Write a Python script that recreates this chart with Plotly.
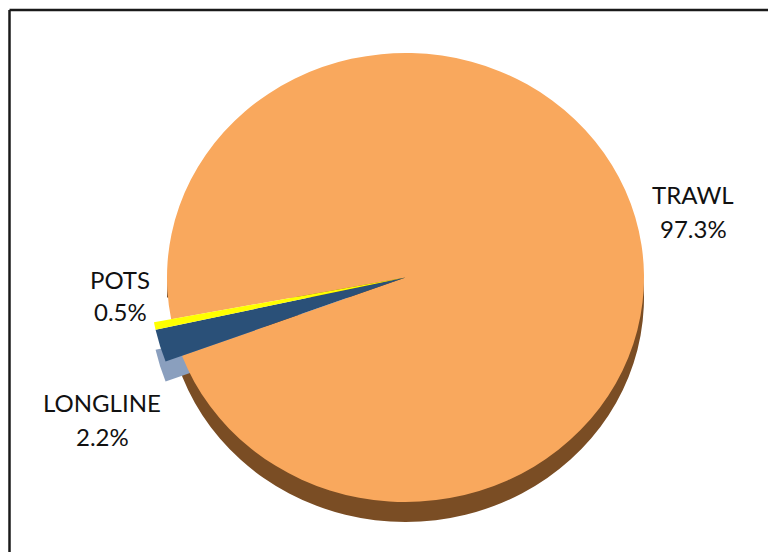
import plotly.graph_objects as go

categories = ["TRAWL", "LONGLINE", "POTS"]
shares = [97.3, 2.2, 0.5]

W, H = 768, 552
CX, CY = 405.5, 277.5
K = 449 / 477          # vertical squash of the tilted pie
DEPTH = 20             # rim depth in px
ROTATION = 259.3
RIM_ROTATION = 270     # the rim is not seen above the wedge
NONE = "rgba(0,0,0,0)"


def pie(radius, colors, rotation=ROTATION):
    return go.Pie(
        labels=categories, values=shares, sort=False, direction="clockwise",
        rotation=rotation, textinfo="none", hoverinfo="label+percent",
        showlegend=False, marker=dict(colors=colors, line=dict(width=0)),
        domain=dict(x=[(CX - radius) / W, (CX + radius) / W],
                    y=[1 - (CY + radius) / H, 1 - (CY - radius) / H]),
    )


fig = go.Figure([
    pie(238.5, ["#7A4D24", NONE, NONE], RIM_ROTATION),  # rim of the big slice
    pie(256, [NONE, "#8A9FBE", NONE]),                  # rim of the pulled wedge
    pie(238.5, ["#F9A85D", NONE, NONE]),                # top of the big slice
    pie(256, [NONE, "#2A5078", "#FFFF00"]),             # top of the pulled wedge
])

font = dict(family="Lato, Carlito, Calibri, sans-serif", size=24, color="#111111")
label_pos = {"TRAWL": (693, 194, 228), "LONGLINE": (102, 402, 436), "POTS": (120, 279, 311)}
for name, value in zip(categories, shares):
    x, y1, y2 = label_pos[name]
    for text, y in ((name, y1), (f"{value}%", y2)):
        fig.add_annotation(
            x=x / W, y=1 - y / H, xref="paper", yref="paper", showarrow=False,
            text=text, font=font, align="center",
            xanchor="center", yanchor="middle",
        )

line = dict(color="#1a1a1a", width=2.5)
fig.add_shape(type="line", xref="paper", yref="paper", x0=9.5 / W, x1=1, y0=1 - 10 / H, y1=1 - 10 / H, line=line)
fig.add_shape(type="line", xref="paper", yref="paper", x0=9.5 / W, x1=9.5 / W, y0=0, y1=1 - 10 / H, line=line)

fig.update_layout(width=W, height=H, margin=dict(l=0, r=0, t=0, b=0),
                  paper_bgcolor="white", plot_bgcolor="white")

post = f"""
document.body.style.margin = '0';
document.body.style.overflow = 'hidden';
var gd = document.getElementById('{{plot_id}}');
var traces = gd.querySelectorAll('.pielayer .trace');
traces.forEach(function(t, i) {{
  var dy = (i < 2) ? {DEPTH} : 0;
  t.setAttribute('transform',
    'translate({CX},' + ({CY} + dy) + ') scale(1,{K}) translate(-{CX},-{CY})');
}});
"""
fig.write_html("out.html", post_script=post, config=dict(responsive=False, displayModeBar=False))
